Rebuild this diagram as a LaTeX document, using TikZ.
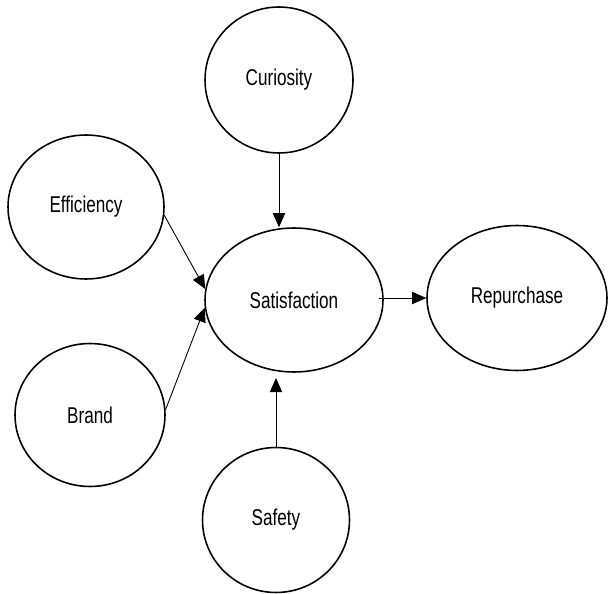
\documentclass[tikz,border=0pt]{standalone}
\usepackage{fontspec}
\setmainfont{Liberation Sans}[FakeStretch=0.75]
\usetikzlibrary{arrows.meta, shapes.geometric}

\begin{document}
\begin{tikzpicture}[x=0.02cm, y=-0.02cm,
    construct/.style={ellipse, draw, line width=0.9pt, inner sep=0pt, font=\fontsize{13}{15}\selectfont},
    every edge/.style={draw, line width=0.5pt, -{Triangle[length=8pt, width=7pt]}}]
    \useasboundingbox (0,0) rectangle (608,594);
    \node[construct, minimum width=2.96cm, minimum height=2.92cm](cur) at (279,80)  {Curiosity};
    \node[construct, minimum width=3.12cm, minimum height=2.88cm](eff) at (86,207)  {Efficiency};
    \node[construct, minimum width=3.56cm, minimum height=2.88cm](sat) at (294,300) {Satisfaction};
    \node[construct, minimum width=3.6cm,  minimum height=2.9cm](rep)  at (517,298) {Repurchase};
    \node[construct, minimum width=3.0cm,  minimum height=2.86cm](brd) at (90,415)  {Brand};
    \node[construct, minimum width=2.94cm, minimum height=2.9cm](saf)  at (276,520) {Safety};
    % Paths
    \path
        (cur.south)
            edge (cur.south |- sat.north)
        (eff.354)
            edge (sat.173.5)
        (brd.4)
            edge (sat.185.5)
        (saf.north)
            edge ([yshift=-3pt]saf.north |- sat.south)
        ([xshift=-3pt]sat.east |- rep.west)
            edge (rep.west)
        ;
\end{tikzpicture}
\end{document}
